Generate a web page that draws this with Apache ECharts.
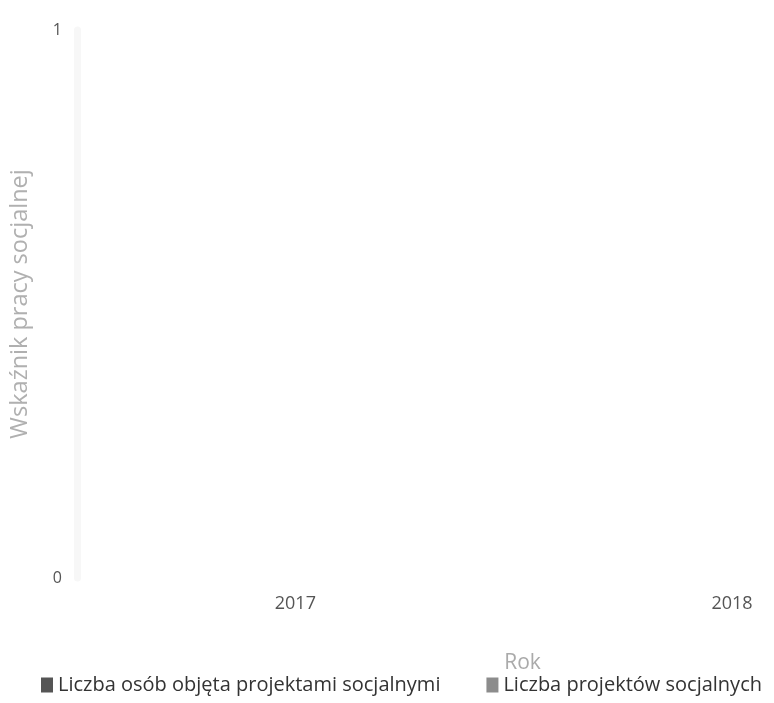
<!DOCTYPE html>
<html><head><meta charset="utf-8">
<script src="https://cdn.jsdelivr.net/npm/echarts@6/dist/echarts.min.js"></script>
<style>html,body{margin:0;padding:0;background:#fff}#c{width:774px;height:703px}</style>
</head><body><div id="c"></div>
<script>
const years = [2017, 2018];
const seriesNames = ['Liczba osób objęta projektami socjalnymi', 'Liczba projektów socjalnych'];
const osoby = [0, 0];
const projekty = [0, 0];
const yTicks = [0, 1];

const chart = echarts.init(document.getElementById('c'));
chart.setOption({
  animation: false,
  textStyle: { fontFamily: 'Open Sans' },
  color: ['#555555', '#8c8c8c'],
  grid: { left: 75, right: 42, top: 30, bottom: 125 },
  legend: {
    bottom: 3, left: 36, itemWidth: 12, itemHeight: 15, itemGap: 46, icon: 'rect',
    textStyle: { fontSize: 20, color: '#333', fontFamily: 'Open Sans' },
    data: seriesNames
  },
  xAxis: {
    type: 'value', min: 2016.5, max: 2018,
    name: 'Rok', nameLocation: 'middle', nameGap: 75,
    nameTextStyle: { fontSize: 21, color: '#aaa', padding: [0, 0, 0, 236] },
    axisLine: { show: false }, axisTick: { show: false }, splitLine: { show: false },
    axisLabel: { customValues: years, fontSize: 18, color: '#555', margin: 17, formatter: v => String(v) }
  },
  yAxis: {
    type: 'value', min: yTicks[0], max: yTicks[1], interval: 1,
    name: 'Wskaźnik pracy socjalnej', nameLocation: 'middle', nameGap: 45,
    nameTextStyle: { fontSize: 23.5, color: '#b0b0b0' },
    axisLine: { show: true, lineStyle: { color: '#f7f7f7', width: 7 } },
    axisTick: { show: false }, splitLine: { show: false },
    axisLabel: { fontSize: 16, color: '#555', margin: 15 }
  },
  series: [
    { name: seriesNames[0], type: 'bar', barWidth: 20, data: years.map((y, i) => [y, osoby[i]]) },
    { name: seriesNames[1], type: 'bar', barWidth: 20, data: years.map((y, i) => [y, projekty[i]]) }
  ]
});
</script></body></html>
